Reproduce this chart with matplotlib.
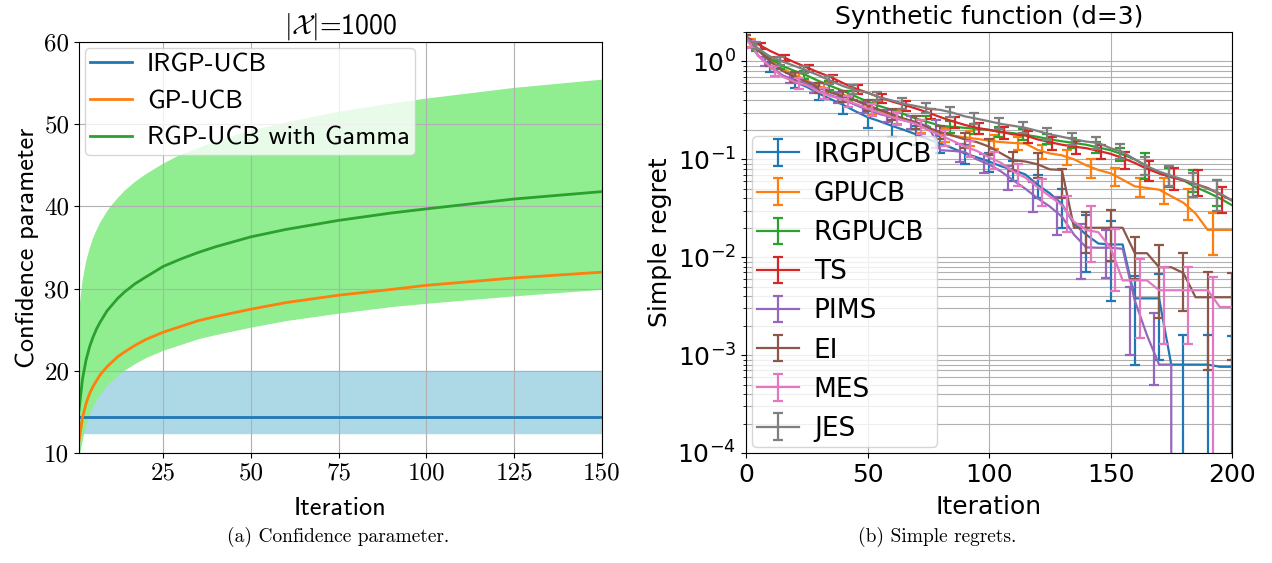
import numpy as np
import matplotlib
matplotlib.use('Agg')
import matplotlib.pyplot as plt

#--------------------------------------------------------------------------------
# (a) Confidence parameter, |X| = 1000
t_conf = [1, 2, 3, 4, 5, 6, 7, 8, 9, 10, 12, 14, 17, 20, 25, 30, 35, 40, 50, 60, 75, 90, 100, 125, 150]
irgp_mean = [14.4] * len(t_conf)
irgp_low = [12.4] * len(t_conf)
irgp_high = [20.0] * len(t_conf)
gpucb_beta = [11.5, 14.3, 16.0, 17.2, 18.1, 18.8, 19.5, 20.0, 20.5, 20.9, 21.7, 22.3, 23.1, 23.8, 24.7,
              25.4, 26.1, 26.6, 27.5, 28.3, 29.2, 29.9, 30.4, 31.3, 32.0]
rgp_mean = [15.2, 19.0, 21.3, 22.9, 24.1, 25.1, 25.9, 26.6, 27.3, 27.8, 28.8, 29.6, 30.6, 31.4, 32.7,
            33.6, 34.4, 35.1, 36.3, 37.2, 38.3, 39.2, 39.7, 40.9, 41.8]
rgp_high = [26.9, 30.8, 33.2, 34.8, 36.1, 37.1, 38.0, 38.7, 39.4, 40.0, 41.0, 41.9, 43.0, 43.9, 45.2,
            46.3, 47.1, 47.9, 49.2, 50.2, 51.5, 52.5, 53.1, 54.4, 55.4]
rgp_low = [10.0, 12.2, 13.8, 15.0, 16.0, 16.7, 17.3, 17.9, 18.4, 18.8, 19.6, 20.2, 21.0, 21.7, 22.6,
           23.3, 24.0, 24.5, 25.4, 26.2, 27.1, 27.9, 28.3, 29.2, 30.0]
conf_xticks = [25, 50, 75, 100, 125, 150]
conf_yticks = [10, 20, 30, 40, 50, 60]

#--------------------------------------------------------------------------------
# (b) Simple regret, synthetic function d=3 (mean every 5 iterations)
iters = np.arange(0, 201, 5)
reg_irgpucb = [1.75, 1.15, 0.88, 0.72, 0.62, 0.55, 0.47, 0.41, 0.36, 0.31, 0.27, 0.245, 0.22, 0.20, 0.18, 0.16,
               0.145, 0.13, 0.115, 0.105, 0.095, 0.085, 0.078, 0.07, 0.055, 0.045, 0.035, 0.022, 0.017, 0.0138,
               0.0135, 0.0135, 0.0038, 0.0038, 0.0038, 0.0008, 0.0008, 0.0008, 0.0008, 0.00076, 0.00076]
reg_gpucb = [1.75, 1.3, 1.0, 0.85, 0.73, 0.64, 0.56, 0.5, 0.46, 0.4, 0.35, 0.31, 0.28, 0.255, 0.23, 0.2,
             0.183, 0.175, 0.168, 0.162, 0.155, 0.15, 0.147, 0.145, 0.125, 0.115, 0.11, 0.1, 0.087, 0.078,
             0.072, 0.062, 0.053, 0.051, 0.049, 0.042, 0.036, 0.028, 0.019, 0.019, 0.019]
reg_rgpucb = [1.8, 1.3, 1.07, 0.9, 0.8, 0.72, 0.63, 0.56, 0.5, 0.44, 0.39, 0.35, 0.32, 0.29, 0.26, 0.24,
              0.22, 0.215, 0.21, 0.205, 0.2, 0.19, 0.185, 0.178, 0.17, 0.16, 0.153, 0.147, 0.141, 0.132,
              0.124, 0.112, 0.1, 0.085, 0.072, 0.066, 0.061, 0.052, 0.046, 0.04, 0.034]
reg_ts = [1.8, 1.5, 1.28, 1.12, 0.98, 0.87, 0.77, 0.69, 0.6, 0.53, 0.48, 0.43, 0.39, 0.36, 0.33, 0.3,
          0.27, 0.245, 0.225, 0.21, 0.2, 0.19, 0.18, 0.175, 0.16, 0.15, 0.141, 0.135, 0.13, 0.122,
          0.114, 0.103, 0.092, 0.08, 0.072, 0.066, 0.061, 0.056, 0.051, 0.044, 0.038]
reg_pims = [1.75, 1.15, 0.9, 0.72, 0.65, 0.59, 0.5, 0.45, 0.41, 0.36, 0.32, 0.29, 0.27, 0.25, 0.235, 0.22,
            0.124, 0.122, 0.119, 0.1, 0.089, 0.075, 0.061, 0.05, 0.04, 0.033, 0.026, 0.017, 0.0126, 0.0125,
            0.0125, 0.0122, 0.0036, 0.0016, 0.0008, 0.0008, 0.0, 0.0, 0.0, 0.0, 0.0]
reg_ei = [1.75, 1.3, 1.0, 0.8, 0.7, 0.62, 0.54, 0.48, 0.44, 0.4, 0.36, 0.32, 0.29, 0.26, 0.24, 0.21,
          0.19, 0.175, 0.16, 0.15, 0.135, 0.115, 0.098, 0.095, 0.089, 0.079, 0.078, 0.02, 0.02, 0.02,
          0.02, 0.02, 0.011, 0.011, 0.0079, 0.0079, 0.0069, 0.0039, 0.0039, 0.0039, 0.0039]
reg_mes = [1.75, 1.15, 0.88, 0.7, 0.62, 0.57, 0.49, 0.44, 0.41, 0.37, 0.33, 0.3, 0.27, 0.25, 0.23, 0.2,
           0.176, 0.155, 0.135, 0.122, 0.105, 0.092, 0.075, 0.065, 0.052, 0.042, 0.034, 0.023, 0.019, 0.018,
           0.0125, 0.0058, 0.0058, 0.0058, 0.0046, 0.0046, 0.0046, 0.0046, 0.0046, 0.0031, 0.0031]
reg_jes = [1.8, 1.35, 1.12, 1.0, 0.9, 0.81, 0.72, 0.63, 0.56, 0.51, 0.48, 0.43, 0.4, 0.37, 0.35, 0.33,
           0.32, 0.3, 0.275, 0.26, 0.245, 0.23, 0.22, 0.21, 0.195, 0.18, 0.17, 0.16, 0.152, 0.147,
           0.13, 0.119, 0.1, 0.085, 0.075, 0.068, 0.062, 0.056, 0.05, 0.045, 0.038]

# error bars (value at the bar, half width), one bar every 10 iterations
bar_irgpucb = [1.75, 0.88, 0.62, 0.47, 0.36, 0.27, 0.22, 0.18, 0.145, 0.115, 0.095, 0.078, 0.055, 0.035, 0.017,
               0.0135, 0.0036, 0.0038, 0.0008, 0.0008, 0.00076]
err_irgpucb = [0.12, 0.1, 0.08, 0.07, 0.07, 0.06, 0.05, 0.04, 0.03, 0.025, 0.02, 0.018, 0.015, 0.015, 0.01,
               0.0099, 0.0028, 0.0029, 0.0008, 0.0008, 0.0008]
bar_gpucb = [1.55, 0.94, 0.69, 0.54, 0.44, 0.33, 0.27, 0.22, 0.18, 0.166, 0.153, 0.146, 0.121, 0.106, 0.083,
             0.068, 0.053, 0.05, 0.037, 0.0195]
err_gpucb = [0.15, 0.1, 0.08, 0.065, 0.055, 0.045, 0.04, 0.035, 0.03, 0.028, 0.025, 0.022, 0.02, 0.018, 0.018,
             0.014, 0.012, 0.015, 0.013, 0.009]
bar_rgpucb = [1.4, 0.93, 0.73, 0.57, 0.45, 0.36, 0.295, 0.245, 0.216, 0.206, 0.192, 0.18, 0.162, 0.148, 0.134,
              0.114, 0.09, 0.067, 0.062, 0.047]
err_rgpucb = [0.12, 0.09, 0.07, 0.055, 0.045, 0.04, 0.035, 0.03, 0.028, 0.026, 0.024, 0.022, 0.02, 0.018, 0.018,
              0.018, 0.027, 0.015, 0.016, 0.014]
bar_ts = [1.45, 1.09, 0.85, 0.67, 0.52, 0.42, 0.355, 0.295, 0.24, 0.208, 0.188, 0.172, 0.148, 0.134, 0.12,
          0.1, 0.078, 0.065, 0.06, 0.04]
err_ts = [0.1, 0.08, 0.07, 0.06, 0.05, 0.045, 0.04, 0.035, 0.03, 0.028, 0.026, 0.025, 0.022, 0.02, 0.02,
          0.02, 0.018, 0.016, 0.018, 0.012]
bar_pims = [1.0, 0.68, 0.54, 0.43, 0.34, 0.28, 0.24, 0.19, 0.12, 0.093, 0.067, 0.044, 0.029, 0.014, 0.0125,
            0.003, 0.0016, 0.0, 0.0, 0.0]
err_pims = [0.1, 0.08, 0.065, 0.055, 0.045, 0.04, 0.035, 0.06, 0.025, 0.02, 0.018, 0.015, 0.012, 0.008, 0.0063,
            0.002, 0.0011, 0.0, 0.0, 0.0]
bar_ei = [1.75, 1.0, 0.7, 0.54, 0.44, 0.36, 0.29, 0.24, 0.19, 0.16, 0.135, 0.098, 0.09, 0.06, 0.02,
          0.0197, 0.011, 0.0079, 0.0069, 0.0039, 0.0039]
err_ei = [0.12, 0.1, 0.08, 0.065, 0.055, 0.045, 0.04, 0.035, 0.03, 0.028, 0.025, 0.022, 0.025, 0.02, 0.009,
          0.0105, 0.005, 0.0055, 0.0041, 0.0032, 0.003]
bar_mes = [1.5, 0.8, 0.6, 0.47, 0.39, 0.32, 0.262, 0.218, 0.168, 0.13, 0.1, 0.071, 0.048, 0.03, 0.021,
           0.012, 0.0055, 0.0046, 0.0046, 0.0031]
err_mes = [0.12, 0.09, 0.075, 0.06, 0.05, 0.045, 0.04, 0.035, 0.03, 0.025, 0.02, 0.018, 0.015, 0.012, 0.012,
           0.0075, 0.004, 0.0033, 0.0033, 0.0032]
bar_jes = [1.45, 1.02, 0.83, 0.65, 0.52, 0.44, 0.375, 0.335, 0.305, 0.263, 0.232, 0.212, 0.183, 0.162, 0.148,
           0.122, 0.088, 0.069, 0.057, 0.046]
err_jes = [0.12, 0.09, 0.075, 0.06, 0.055, 0.05, 0.045, 0.04, 0.035, 0.032, 0.03, 0.028, 0.025, 0.022, 0.02,
           0.02, 0.018, 0.016, 0.016, 0.016]

metodos = ['IRGPUCB', 'GPUCB', 'RGPUCB', 'TS', 'PIMS', 'EI', 'MES', 'JES']
medias = [reg_irgpucb, reg_gpucb, reg_rgpucb, reg_ts, reg_pims, reg_ei, reg_mes, reg_jes]
barras = [bar_irgpucb, bar_gpucb, bar_rgpucb, bar_ts, bar_pims, bar_ei, bar_mes, bar_jes]
erros = [err_irgpucb, err_gpucb, err_rgpucb, err_ts, err_pims, err_ei, err_mes, err_jes]
inicio_barra = [0, 2, 4, 6, 8, 0, 2, 4]
cores = ['C0', 'C1', 'C2', 'C3', 'C4', 'C5', 'C6', 'C7']

#--------------------------------------------------------------------------------
fig = plt.figure(figsize=(12.72, 5.63), dpi=100)
W, H = 1272., 563.
ax1 = fig.add_axes([79/W, 1-453/H, (602-79)/W, (453-42)/H])
ax2 = fig.add_axes([746/W, 1-453/H, (1232-746)/W, (453-32)/H])

# estilo comum das legendas
leg_kw = dict(handlelength=1.6, handletextpad=0.55, borderpad=0.2, borderaxespad=0.22, labelspacing=0.5)

# ---- left panel
sans_tex = 'cmss10'
serif_tex = 'cmr10'
ax1.fill_between(t_conf, irgp_low, irgp_high, color='lightblue')
ax1.fill_between(t_conf, rgp_low, rgp_high, color='lightgreen')
ax1.plot(t_conf, irgp_mean, color='C0', lw=2, label='IRGP-UCB')
ax1.plot(t_conf, gpucb_beta, color='C1', lw=2, label='GP-UCB')
ax1.plot(t_conf, rgp_mean, color='C2', lw=2, label='RGP-UCB with Gamma')
ax1.set_xlim(t_conf[0], t_conf[-1])
ax1.set_ylim(conf_yticks[0], conf_yticks[-1])
ax1.set_xticks(conf_xticks, labels=[str(v) for v in conf_xticks], fontfamily=serif_tex, fontsize=18)
ax1.set_yticks(conf_yticks, labels=[str(v) for v in conf_yticks], fontfamily=serif_tex, fontsize=18)
ax1.grid(True)
ax1.set_xlabel('Iteration', fontfamily=sans_tex, fontsize=19, labelpad=9)
ax1.set_ylabel('Confidence parameter', fontfamily=sans_tex, fontsize=19)
ax1.set_title(r'$|\mathcal{X}|$=1000', fontfamily=sans_tex, math_fontfamily='cm', fontsize=20)
ax1.legend(loc='upper left', prop={'family': sans_tex, 'size': 19}, **leg_kw)

# ---- right panel
handles = []
for nome, cor, off, media, by, be in zip(metodos, cores, inicio_barra, medias, barras, erros):
    bx = np.arange(off, 201, 10)
    by = np.array(by)
    be = np.array(be)
    ok = be > 0
    linha, = ax2.plot(iters, media, color=cor, lw=1.6)
    eb = ax2.errorbar(bx[ok], by[ok], yerr=be[ok], fmt='none', ecolor=cor, elinewidth=1.6,
                      capsize=3.5, capthick=1.6)
    handles.append((linha, eb))
ax2.set_yscale('log')
ax2.set_xlim(0, 200)
ax2.set_ylim(1e-4, 2)
ax2.set_xticks([0, 50, 100, 150, 200])
ax2.tick_params(labelsize=18)
ax2.grid(True, which='both')
ax2.set_xlabel('Iteration', fontsize=18, labelpad=6)
ax2.set_ylabel('Simple regret', fontsize=18)
ax2.set_title('Synthetic function (d=3)', fontsize=18)
ax2.legend(handles, metodos, loc='lower left', fontsize=19, **leg_kw)

# ---- captions
fig.text(338/W, 1-537/H, '(a) Confidence parameter.', ha='center', va='center',
         fontfamily=serif_tex, fontsize=14)
fig.text(937/W, 1-537/H, '(b) Simple regrets.', ha='center', va='center',
         fontfamily=serif_tex, fontsize=14)

fig.savefig('out.png', dpi=100)
plt.close()
